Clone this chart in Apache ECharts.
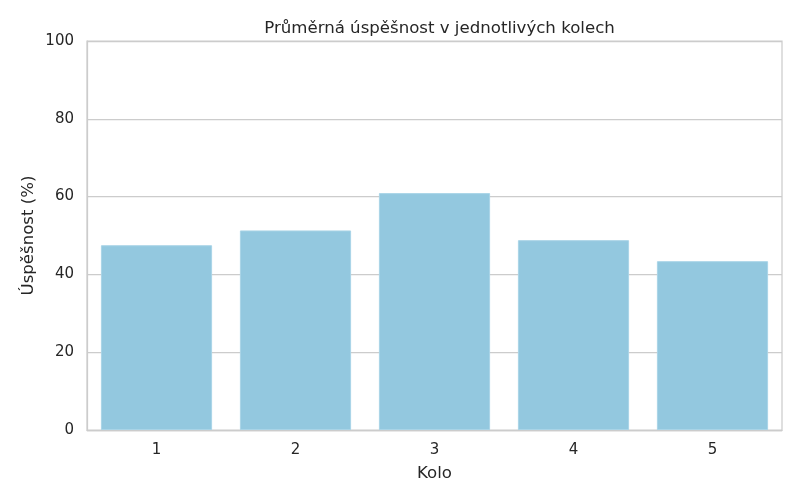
<!DOCTYPE html>
<html>
<head>
<meta charset="utf-8">
<script src="https://cdn.jsdelivr.net/npm/echarts@6/dist/echarts.min.js"></script>
<style>html,body{margin:0;padding:0;background:#fff}#c{width:800px;height:500px}</style>
</head>
<body>
<div id="c"></div>
<script>
const categories = ['1', '2', '3', '4', '5'];
const values = [47.5, 51.3, 60.9, 48.8, 43.4];
const yTicks = [0, 20, 40, 60, 80, 100];

const chart = echarts.init(document.getElementById('c'), null, {renderer: 'canvas'});
const font = 'DejaVu Sans';
chart.setOption({
  animation: false,
  backgroundColor: '#ffffff',
  title: {
    text: 'Průměrná úspěšnost v jednotlivých kolech',
    left: 434.5, textAlign: 'center', top: 15,
    textStyle: {fontFamily: font, fontSize: 16.6, fontWeight: 'normal', color: '#262626'}
  },
  grid: {left: 87, right: 18, top: 41, bottom: 70, show: true, borderColor: '#cccccc', borderWidth: 1.25, containLabel: false},
  xAxis: {
    type: 'category', data: categories,
    name: 'Kolo', nameLocation: 'middle', nameGap: 35, nameMoveOverlap: false,
    nameTextStyle: {fontFamily: font, fontSize: 16.6, color: '#262626'},
    axisLine: {show: true, lineStyle: {color: '#cccccc', width: 1.25}},
    axisTick: {show: false},
    axisLabel: {fontFamily: font, fontSize: 15, color: '#262626', margin: 13},
    splitLine: {show: false}
  },
  yAxis: {
    type: 'value', min: yTicks[0], max: yTicks[yTicks.length - 1], interval: 20,
    name: 'Úspěšnost (%)', nameLocation: 'middle', nameGap: 50, nameMoveOverlap: false,
    nameTextStyle: {fontFamily: font, fontSize: 16.6, color: '#262626'},
    axisLine: {show: true, lineStyle: {color: '#cccccc', width: 1.25}},
    axisTick: {show: false},
    axisLabel: {fontFamily: font, fontSize: 15, color: '#262626', margin: 13},
    splitLine: {show: true, lineStyle: {color: '#cccccc', width: 1.25}}
  },
  series: [{
    type: 'bar', data: values, barWidth: '80%',
    itemStyle: {color: '#93c8df', borderColor: '#a9d4e7', borderWidth: 1}
  }]
});
</script>
</body>
</html>
